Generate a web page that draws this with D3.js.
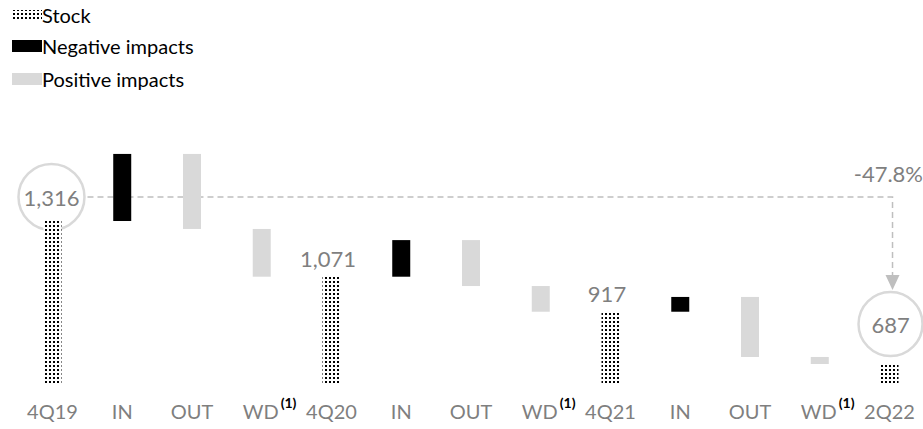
<!DOCTYPE html>
<html>
<head>
<meta charset="utf-8">
<script src="https://cdn.jsdelivr.net/npm/d3@7/dist/d3.min.js"></script>
<style>
  html, body { margin: 0; padding: 0; background: #fff; }
  svg { display: block; font-family: Lato, "Open Sans", sans-serif; }
</style>
</head>
<body>
<svg id="chart" width="923" height="429"></svg>
<script>
// Categories along the x axis
const categories = ["4Q19", "IN", "OUT", "WD", "4Q20", "IN", "OUT", "WD", "4Q21", "IN", "OUT", "WD", "2Q22"];
// Kind of each step: stock level, inflow (negative impact) or outflow (positive impact)
const kinds = ["stock", "in", "out", "wd", "stock", "in", "out", "wd", "stock", "in", "out", "wd", "stock"];
// Stock levels and flows
const stockValues = [1316, 1071, 917, 687];
const inflows = [295, 161, 65];
const outflows = [330, 202, 264];
const writedowns = [210, 113, 31];
const changeLabel = "-47.8%";
const legendItems = ["Stock", "Negative impacts", "Positive impacts"];

const svg = d3.select("#chart");
const grey = "#7f7f7f";

// Dotted fill used for stock bars
const defs = svg.append("defs");
const pat = defs.append("pattern")
  .attr("id", "dots").attr("patternUnits", "userSpaceOnUse")
  .attr("width", 4).attr("height", 4);
pat.append("rect").attr("width", 4).attr("height", 4).attr("fill", "#fff");
pat.append("rect").attr("x", 1).attr("y", 1).attr("width", 2).attr("height", 2).attr("fill", "#000");

// Build waterfall segments
const steps = [];
let level = stockValues[0];
let si = 0, fi = 0;
categories.forEach((c, i) => {
  const k = kinds[i];
  if (k === "stock") {
    level = stockValues[si++];
    steps.push({ i, c, k, y0: null, y1: level });
  } else if (k === "in") {
    const v = inflows[fi];
    steps.push({ i, c, k, y0: level, y1: level + v });
    level += v;
  } else if (k === "out") {
    const v = outflows[fi];
    steps.push({ i, c, k, y0: level - v, y1: level });
    level -= v;
  } else {
    const v = writedowns[fi];
    steps.push({ i, c, k, y0: level - v, y1: level });
    level -= v;
    fi++;
  }
});

const x = d3.scaleBand()
  .domain(d3.range(categories.length))
  .range([17.6, 924.4])
  .paddingInner(0.742).paddingOuter(0.371);

const baseValue = 600;
const y = d3.scaleLinear().domain([baseValue, 1700]).range([383.8, 133.7]);

const color = { stock: "url(#dots)", in: "#000", out: "#d9d9d9", wd: "#d9d9d9" };
const fmt = d3.format(",");

// Dashed connector from first to last stock with arrow (behind bars)
const xFirst = x(0) + x.bandwidth() / 2;
const xLast = x(categories.length - 1) + x.bandwidth() / 2;
const lineY = y(stockValues[0]) - 24;
const circleR = 33;
const lastR = 32;
const lastCy = y(stockValues[3]) - 40;

svg.append("path")
  .attr("d", `M${xFirst + circleR + 2},${lineY} H${xLast + 3} V${lastCy - lastR - 16}`)
  .attr("fill", "none")
  .attr("stroke", "#bfbfbf")
  .attr("stroke-width", 1.5)
  .attr("stroke-dasharray", "6,4");

svg.append("path")
  .attr("d", `M${xLast + 3 - 7},${lastCy - lastR - 17} L${xLast + 3 + 7},${lastCy - lastR - 17} L${xLast + 3},${lastCy - lastR - 2} Z`)
  .attr("fill", "#bfbfbf");

svg.append("text")
  .attr("x", 923).attr("y", lineY - 21)
  .attr("text-anchor", "end").attr("dominant-baseline", "middle")
  .attr("font-size", 22).attr("fill", grey)
  .text(changeLabel);

// Circles around first and last stock values
const circles = [
  { cx: xFirst - 1, cy: lineY, r: circleR, v: stockValues[0] },
  { cx: xLast + 1, cy: lastCy, r: lastR, v: stockValues[3] }
];
circles.forEach(c => {
  svg.append("circle").attr("cx", c.cx).attr("cy", c.cy).attr("r", c.r)
    .attr("fill", "#fff").attr("stroke", "#d9d9d9").attr("stroke-width", 2.5);
});

// Bars
svg.append("g").selectAll("rect").data(steps).join("rect")
  .attr("x", d => x(d.i))
  .attr("width", x.bandwidth())
  .attr("y", d => y(d.y1))
  .attr("height", d => (d.k === "stock" ? y(baseValue) : y(d.y0)) - y(d.y1))
  .attr("fill", d => color[d.k]);

circles.forEach(c => {
  svg.append("text").attr("x", c.cx).attr("y", c.cy)
    .attr("text-anchor", "middle").attr("dominant-baseline", "central")
    .attr("font-size", 22).attr("fill", grey).text(fmt(c.v));
});

// Value labels above intermediate stocks
[1, 2].forEach(j => {
  const st = steps.filter(d => d.k === "stock")[j];
  svg.append("text")
    .attr("x", x(st.i) + x.bandwidth() / 2 - 3.5)
    .attr("y", y(st.y1) - 10)
    .attr("text-anchor", "middle")
    .attr("font-size", 22).attr("fill", grey)
    .text(fmt(st.y1));
});

// Category labels
const xl = svg.append("g").selectAll("text").data(steps).join("text")
  .attr("x", d => x(d.i) + x.bandwidth() / 2)
  .attr("y", 419)
  .attr("text-anchor", "middle")
  .attr("font-size", 20).attr("fill", grey);
xl.append("tspan").text(d => d.c);
const wd = xl.filter(d => d.k === "wd")
  .attr("text-anchor", "start")
  .attr("x", d => x(d.i) + x.bandwidth() / 2 - 19);
wd.append("tspan")
  .attr("dx", 2).attr("dy", -11).attr("font-size", 14).attr("font-weight", "bold").attr("fill", "#000")
  .text("(1)");

// Legend
const legend = svg.append("g");
const legendFill = ["url(#dots)", "#000", "#d9d9d9"];
const legendY = [15, 46, 79];
legendItems.forEach((t, i) => {
  legend.append("rect")
    .attr("x", 12).attr("y", legendY[i] - (i === 0 ? 5 : 6))
    .attr("width", 30).attr("height", i === 0 ? 10 : 12)
    .attr("fill", legendFill[i]);
  legend.append("text")
    .attr("x", 42).attr("y", legendY[i])
    .attr("dominant-baseline", "central")
    .attr("font-size", 20).attr("fill", "#000").text(t);
});
</script>
</body>
</html>
